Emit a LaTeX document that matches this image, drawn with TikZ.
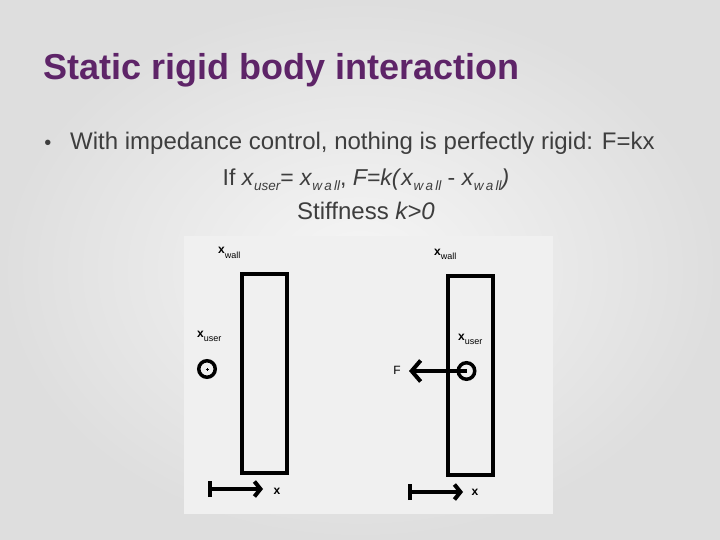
\documentclass[tikz,border=0pt]{standalone}
\usepackage{fontspec}
\setmainfont{Liberation Sans}
\usetikzlibrary{arrows.meta}
\definecolor{titlepurple}{RGB}{94,36,104}
\definecolor{bodygray}{RGB}{62,62,62}
\definecolor{slidein}{RGB}{246,246,246}
\definecolor{slideout}{RGB}{222,222,222}
\definecolor{figback}{RGB}{240,240,240}
\newcommand\xsub[1]{{\fontsize{12}{13}\selectfont\bfseries x}\raisebox{-4.5pt}{\fontsize{9}{10}\selectfont #1}}
\newcommand\xit[1]{\textit{x}\raisebox{-5pt}{\fontsize{13.5}{15}\selectfont\itshape #1}}

\begin{document}
\begin{tikzpicture}[x=1pt,y=-1pt,
  wallbox/.style={draw=black,line width=4pt,minimum width=45pt,minimum height=199pt,inner sep=0pt},
  userdot/.style={draw=black,circle,line width=3.5pt,minimum size=16.5pt,inner sep=0pt},
  tag/.style={anchor=base west,inner sep=0pt},
  axtag/.style={inner sep=0pt,font=\fontsize{12}{13}\selectfont\bfseries},
  push/.style={line width=4pt,-{Straight Barb[length=9pt,width=21pt]}},
  ruler/.style={line width=4pt,{Bar[width=16pt]}-{Straight Barb[length=6pt,width=15pt]}}]
\useasboundingbox (0,0) rectangle (720,540);
\shade[inner color=slidein,outer color=slideout] (0,0) rectangle (720,540);
\fill[figback] (184,236) rectangle (553,514);
\node[tag,text=titlepurple,font=\fontsize{36}{40}\selectfont\bfseries] (title) at (43,80) {Static rigid body interaction};
\node[anchor=base,inner sep=0pt,text=bodygray,font=\fontsize{20}{24}\selectfont] (bul) at (48,150) {•};
\node[tag,text=bodygray,font=\fontsize{24}{28}\selectfont] (point) at (70,150) {With impedance control, nothing is perfectly rigid: F=kx};
\node[anchor=base,inner sep=0pt,text=bodygray,font=\fontsize{23}{28}\selectfont] (cond) at (366,186) {If \xit{user}= \xit{w\,a\,ll}, \textit{F=k(}\xit{w\,a\,ll} - \xit{w\,a\,ll}\textit{)}};
\node[anchor=base,inner sep=0pt,text=bodygray,font=\fontsize{24}{28}\selectfont] (stiff) at (366,219) {Stiffness \textit{k>0}};
\node[wallbox] (wallL) at (264.5,373.5) {};
\node[wallbox] (wallR) at (470,375.5) {};
\node[tag] (wallLlab) at (218,254) {\xsub{wall}};
\node[tag] (wallRlab) at (434,255) {\xsub{wall}};
\node[tag] (userLlab) at (197,337) {\xsub{user}};
\node[tag] (userRlab) at (458,340) {\xsub{user}};
\node[userdot] (userL) at (207,369) {};
\node[userdot] (userR) at (466.5,371) {};
\draw[line width=0.6pt] ([xshift=-1.5pt]userL.center)--([xshift=1.5pt]userL.center) ([yshift=-1.5pt]userL.center)--([yshift=1.5pt]userL.center);
\coordinate (Ftip) at (409,371);
\draw[push] (userR.center)--(Ftip);
\node[inner sep=0pt,font=\fontsize{12}{13}\selectfont] (Flab) at (397,370) {F};
\coordinate (axL0) at (208,489);
\coordinate (axL1) at (263,489);
\coordinate (axR0) at (408,492);
\coordinate (axR1) at (463,492);
\draw[ruler] (axL0)--(axL1);
\draw[ruler] (axR0)--(axR1);
\node[axtag] (axLlab) at (277,491) {x};
\node[axtag] (axRlab) at (475,492) {x};
\end{tikzpicture}
\end{document}
